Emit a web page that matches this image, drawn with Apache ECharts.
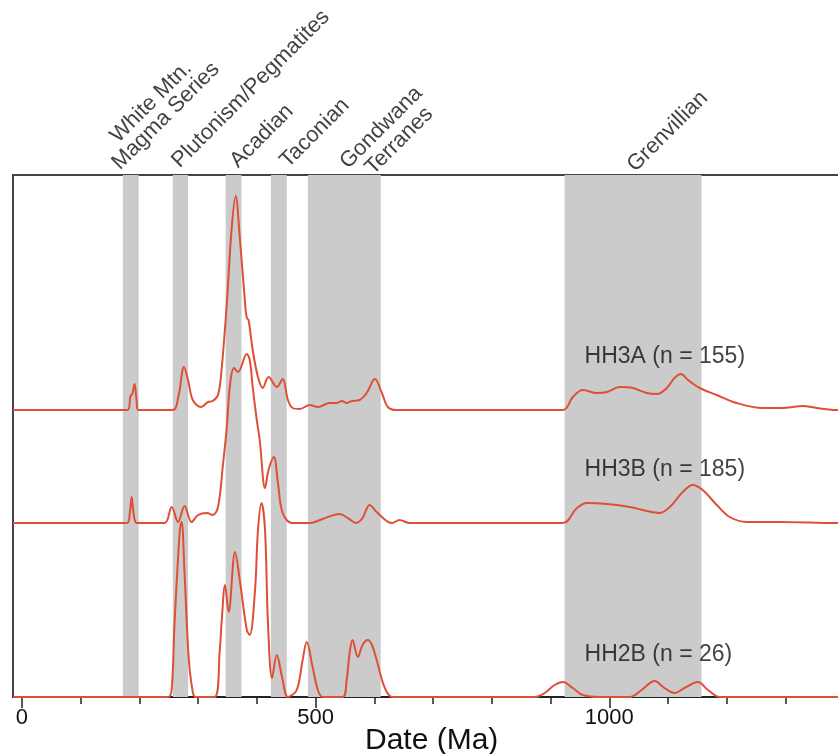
<!DOCTYPE html>
<html>
<head>
<meta charset="utf-8">
<script src="https://cdn.jsdelivr.net/npm/echarts@6/dist/echarts.min.js"></script>
<style>
  html, body { margin: 0; padding: 0; background: #fff; }
  #main { width: 838px; height: 754px; }
</style>
</head>
<body>
<div id="main"></div>
<script>
// age bands (Ma): [from, to]
var bands = [[172, 199], [257, 283], [347, 374], [424, 451], [487, 611], [924, 1157]];

// band names, placed at [Ma, height] above the frame
var bandLabels = [
  ["White Mtn.", 170, 550],
  ["Magma Series", 173, 523],
  ["Plutonism/Pegmatites", 275, 525],
  ["Acadian", 374, 525],
  ["Taconian", 459, 525],
  ["Gondwana", 561, 524],
  ["Terranes", 604, 518],
  ["Grenvillian", 1050, 521]
];

// probability density curves, [Ma, height above own baseline]
var hh3a = [[-15,0],[180,0],[185,14],[188,16],[192,26],[195,12],[198,0],[257,0],[267,15],[276,43],[283,30],[291,10],
  [305,3],[317,8],[325,9],[334,15],[340,40],[349,107],[357,180],[364,214],[371,173],[380,107],[383,92],[386,90],
  [393,60],[402,33],[410,22],[420,33],[434,23],[444,31],[453,10],[461,2],[473,1],[490,5],[504,3],[524,7],[536,7],
  [545,9],[553,7],[562,9],[575,10],[587,17],[601,31],[613,17],[623,3],[638,0],[921,0],[938,13],[955,20],[979,17],
  [996,18],[1018,23],[1040,22],[1064,17],[1081,16],[1098,22],[1111,32],[1122,36],[1134,30],[1154,22],[1183,15],
  [1217,7],[1261,2],[1295,2],[1329,4],[1353,2],[1387,0],[1500,0]];

var hh3b = [[-15,0],[179,0],[184,11],[187,26],[190,11],[196,0],[243,0],[255,16],[266,1],[277,17],[289,1],[300,8],
  [315,10],[325,8],[334,16],[342,56],[349,96],[354,136],[361,155],[368,151],[383,169],[388,163],[393,136],[400,103],
  [405,83],[414,35],[420,53],[429,66],[436,40],[444,10],[460,0],[490,0],[512,4],[541,9],[555,5],[569,0],[580,5],
  [592,18],[604,11],[621,2],[630,0],[643,3],[660,0],[921,0],[945,15],[962,20],[996,19],[1035,16],[1064,12],
  [1086,10],[1103,16],[1125,31],[1142,38],[1159,33],[1183,18],[1205,6],[1234,1],[1290,1],[1387,0],[1500,0]];

var hh2b = [[-15,0],[249,0],[255,7],[260,74],[269,167],[272,175],[277,124],[284,40],[291,5],[296,0],[328,0],
  [337,47],[340,74],[346,112],[352,85],[363,145],[371,117],[383,67],[388,62],[397,107],[402,167],[408,194],
  [414,167],[419,74],[426,19],[434,42],[443,20],[453,0],[468,7],[478,37],[485,55],[495,30],[504,7],[512,0],
  [546,0],[553,17],[558,44],[563,57],[572,40],[580,52],[589,57],[596,52],[604,37],[618,9],[631,0],[873,0],
  [890,4],[907,12],[921,15],[938,9],[955,2],[984,0],[1035,0],[1055,7],[1077,16],[1094,9],[1111,4],[1128,9],
  [1151,15],[1168,7],[1188,0],[1500,0]];

var samples = ["HH3A (n = 155)", "HH3B (n = 185)", "HH2B (n = 26)"];
var baselines = [287, 174, 0];
var sampleLabelPos = [[958, 340], [958, 227], [958, 42]];

var majorTicks = [0, 500, 1000];
var minorTicks = [0, 100, 200, 300, 400, 500, 600, 700, 800, 900, 1000, 1100, 1200, 1300, 1400];

var curves = [hh3a, hh3b, hh2b];
var lineColor = "#de4f36";
var font = "Liberation Sans, Arial, Helvetica, sans-serif";

function shift(data, base) {
  return data.map(function (d) { return [d[0], d[1] + base]; });
}

var myChart = echarts.init(document.getElementById("main"));

var series = [];
// grey bands
series.push({
  type: "line",
  data: [],
  z: 1,
  markArea: {
    silent: true,
    itemStyle: { color: "#cbcbcb" },
    data: bands.map(function (b) { return [{ xAxis: b[0] }, { xAxis: b[1] }]; })
  }
});
curves.forEach(function (c, i) {
  series.push({
    type: "line",
    name: samples[i],
    data: shift(c, baselines[i]),
    smooth: 0.35,
    symbol: "none",
    z: 3,
    lineStyle: { color: lineColor, width: 2 }
  });
});
// sample names
series.push({
  type: "scatter",
  symbolSize: 0,
  z: 4,
  data: samples.map(function (s, i) { return { name: s, value: sampleLabelPos[i] }; }),
  label: {
    show: true,
    position: "right",
    distance: 0,
    formatter: "{b}",
    fontFamily: font,
    fontSize: 23,
    color: "#111"
  }
});
// band names
series.push({
  type: "scatter",
  symbolSize: 0,
  clip: false,
  z: 4,
  data: bandLabels.map(function (b) { return { name: b[0], value: [b[1], b[2]] }; }),
  label: {
    show: true,
    position: "right",
    distance: 0,
    rotate: 45,
    align: "left",
    verticalAlign: "bottom",
    formatter: "{b}",
    fontFamily: font,
    fontSize: 22,
    color: "#111"
  }
});

myChart.setOption({
  animation: false,
  title: {
    text: "Date (Ma)",
    left: 360,
    top: 721,
    textStyle: { fontFamily: font, fontSize: 30, fontWeight: "normal", color: "#111" }
  },
  grid: {
    left: 13,
    top: 175,
    width: 890,
    bottom: 57,
    outerBoundsMode: "none",
    containLabel: false,
    show: true,
    borderColor: "#444",
    borderWidth: 2
  },
  xAxis: [
    {
      type: "value",
      min: -15,
      max: 1500,
      splitLine: { show: false },
      axisLine: { lineStyle: { color: "#222", width: 2 } },
      axisTick: { customValues: minorTicks, length: 7, lineStyle: { color: "#222", width: 1.5 } },
      axisLabel: {
        customValues: majorTicks,
        margin: 10,
        formatter: function (v) { return String(v); },
        fontFamily: font,
        fontSize: 22,
        color: "#111"
      }
    },
    {
      type: "value",
      min: -15,
      max: 1500,
      position: "bottom",
      splitLine: { show: false },
      axisLine: { show: false },
      axisTick: { customValues: majorTicks, length: 11, lineStyle: { color: "#222", width: 1.5 } },
      axisLabel: { show: false }
    }
  ],
  yAxis: { type: "value", min: 0, max: 522, show: false },
  series: series
});
</script>
</body>
</html>
